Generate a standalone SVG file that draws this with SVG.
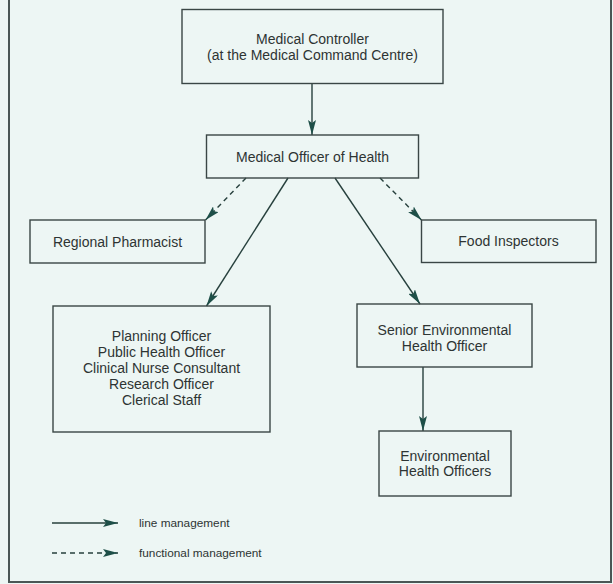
<svg xmlns="http://www.w3.org/2000/svg" width="613" height="584" viewBox="0 0 613 584">
<style>
.box{fill:none;stroke:#3a4645;stroke-width:1.4}
.t{font-family:"Liberation Sans",Arial,sans-serif;font-size:14px;fill:#2e3433;text-anchor:middle}
.lg{font-family:"Liberation Sans",Arial,sans-serif;font-size:11.8px;fill:#2e3433}
.c{fill:none;stroke:#27403d;stroke-width:1.4}
.d{stroke-dasharray:5 4}
</style>
<defs>
<marker id="ah" markerUnits="userSpaceOnUse" markerWidth="16" markerHeight="8" refX="15" refY="4" orient="auto">
<path d="M0,0 L15,4 L0,8 L3,4 z" fill="#1e4f48"/>
</marker>
</defs>
<rect x="0" y="0" width="613" height="584" fill="#edf6f4"/>
<path d="M9,0 V582 H611 V0" fill="none" stroke="#4a5655" stroke-width="2"/>
<g id="connectors">
<line class="c" x1="312" y1="83" x2="312" y2="135" marker-end="url(#ah)"/>
<line class="c d" x1="246" y1="178" x2="205.5" y2="220" marker-end="url(#ah)"/>
<line class="c" x1="288" y1="178" x2="206.5" y2="306" marker-end="url(#ah)"/>
<line class="c" x1="335" y1="178" x2="420" y2="304" marker-end="url(#ah)"/>
<line class="c d" x1="380" y1="178" x2="421.5" y2="220" marker-end="url(#ah)"/>
<line class="c" x1="423" y1="367" x2="423" y2="431" marker-end="url(#ah)"/>
</g>
<g id="controller">
<rect class="box" x="182" y="9.5" width="261" height="74"/>
<text class="t" x="312.5" y="44">Medical Controller</text>
<text class="t" x="312.5" y="60">(at the Medical Command Centre)</text>
</g>
<g id="moh">
<rect class="box" x="206.5" y="135" width="212" height="43"/>
<text class="t" x="312.5" y="161.5">Medical Officer of Health</text>
</g>
<g id="pharmacist">
<rect class="box" x="30" y="220" width="175" height="43"/>
<text class="t" x="117.5" y="246.5">Regional Pharmacist</text>
</g>
<g id="food">
<rect class="box" x="421.5" y="220" width="174.5" height="42.5"/>
<text class="t" x="508.5" y="246">Food Inspectors</text>
</g>
<g id="planning">
<rect class="box" x="53" y="306" width="217" height="126"/>
<text class="t" x="161.5" y="341">Planning Officer</text>
<text class="t" x="161.5" y="357">Public Health Officer</text>
<text class="t" x="161.5" y="373">Clinical Nurse Consultant</text>
<text class="t" x="161.5" y="389">Research Officer</text>
<text class="t" x="161.5" y="405">Clerical Staff</text>
</g>
<g id="seho">
<rect class="box" x="357" y="304" width="175" height="63"/>
<text class="t" x="444.5" y="335">Senior Environmental</text>
<text class="t" x="444.5" y="350.5">Health Officer</text>
</g>
<g id="eho">
<rect class="box" x="379" y="431" width="132" height="65"/>
<text class="t" x="445" y="460.5">Environmental</text>
<text class="t" x="445" y="476">Health Officers</text>
</g>
<g id="legend">
<line class="c" x1="52" y1="523" x2="118" y2="523" marker-end="url(#ah)"/>
<text class="lg" x="139" y="527">line management</text>
<line class="c d" x1="52" y1="553" x2="118" y2="553" marker-end="url(#ah)"/>
<text class="lg" x="139" y="557">functional management</text>
</g>
</svg>
